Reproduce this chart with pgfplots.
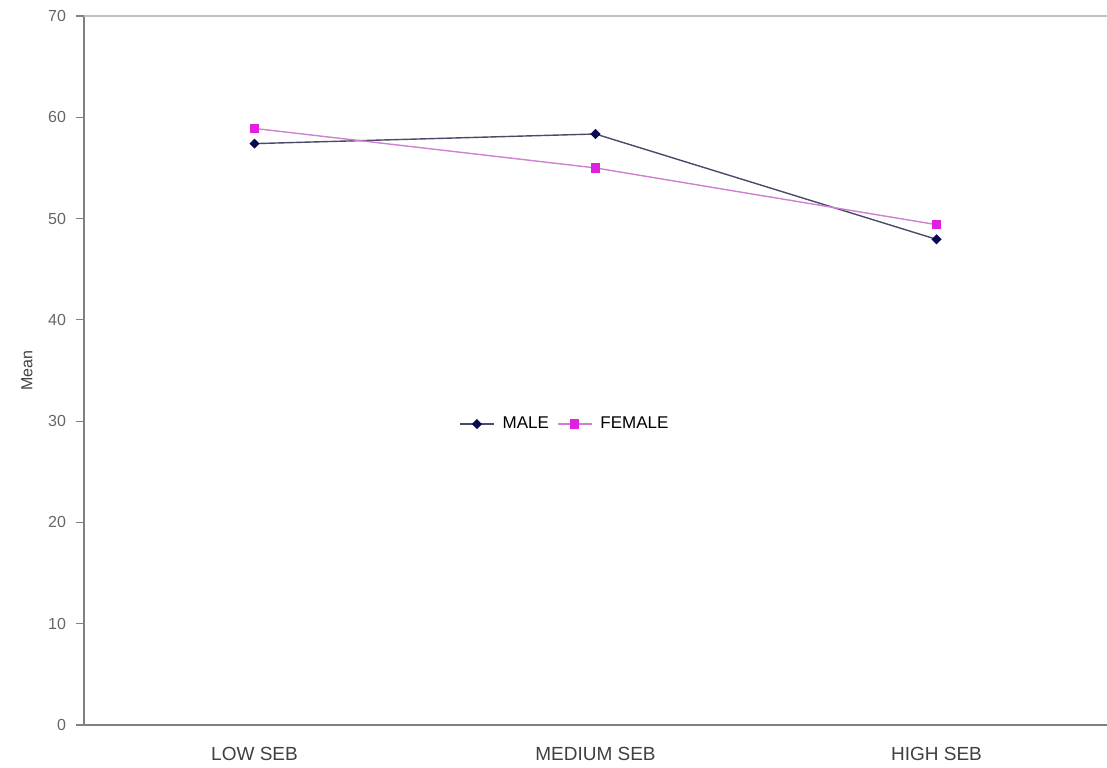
\documentclass[border=0pt]{standalone}
\usepackage{pgfplots}
\pgfplotsset{compat=1.18}
\usepackage{fontspec}
\setmainfont{Liberation Sans}
\definecolor{maleline}{HTML}{4A4A6A}
\definecolor{malemark}{HTML}{0A0A50}
\definecolor{femline}{HTML}{D080D0}
\definecolor{femmark}{HTML}{E020E0}
\definecolor{axisgray}{HTML}{808080}
\begin{document}
\begin{tikzpicture}
\useasboundingbox (0,0) rectangle (553.5pt,383.5pt);
\begin{axis}[
  scale only axis,
  width=511.5pt, height=354.5pt,
  at={(42pt,21pt)}, anchor=south west,
  xmin=-0.5, xmax=2.5, ymin=0, ymax=70,
  axis x line=bottom, axis y line=left,
  axis line style={-, axisgray, line width=1pt},
  xtick={0,1,2},
  xticklabels={LOW SEB, MEDIUM SEB, HIGH SEB},
  x tick style={draw=none},
  extra x ticks={0.5,1.5},
  extra x tick labels={},
  extra x tick style={tick style={draw=axisgray, line width=0.6pt}, major tick length=2.5pt, tick align=outside},
  ytick={0,10,...,70},
  y tick style={draw=axisgray, line width=0.6pt},
  major tick length=4pt,
  tick align=outside,
  /pgf/number format/assume math mode=true,
  yticklabel style={font=\fontsize{8}{9}\selectfont, text=black!60, xshift=-1.5pt},
  xticklabel style={font=\fontsize{9.5}{11}\selectfont, text=black!75, yshift=-3.5pt},
  ylabel={Mean},
  ylabel style={font=\fontsize{8}{9}\selectfont, text=black!75, at={(axis description cs:0,0.5)}, anchor=center, yshift=28.5pt},
  legend style={at={(0.47,0.4245)}, anchor=center, draw=none, fill=none, font=\fontsize{8.5}{10}\selectfont, column sep=3pt,
    nodes={inner xsep=1pt}},
  legend columns=2,
  clip=false,
]
\draw[black!25, line width=0.6pt] (rel axis cs:0,1) -- (rel axis cs:1,1);
\addplot[color=maleline, line width=0.7pt, mark=square*, mark size=1.45pt, mark options={rotate=45, fill=malemark, draw=malemark}]
  coordinates {(0,57.4) (1,58.35) (2,47.95)};
\addlegendentry{MALE}
\addplot[color=femline, line width=0.7pt, mark=square*, mark size=2pt, mark options={fill=femmark, draw=femmark}]
  coordinates {(0,58.9) (1,55.0) (2,49.4)};
\addlegendentry{FEMALE}
\end{axis}
\end{tikzpicture}
\end{document}
